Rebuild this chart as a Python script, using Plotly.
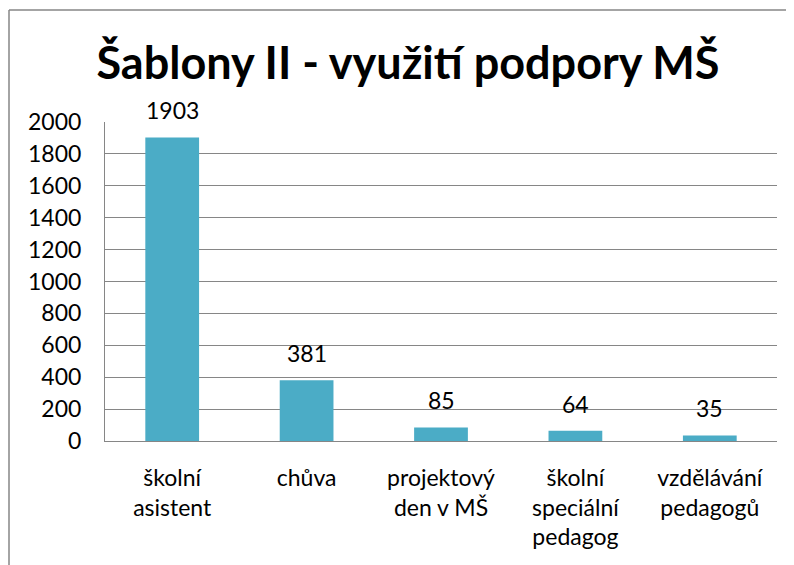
import plotly.graph_objects as go

categories = ["školní<br>asistent", "chůva", "projektový<br>den v MŠ", "školní<br>speciální<br>pedagog", "vzdělávání<br>pedagogů"]
values = [1903, 381, 85, 64, 35]
y_ticks = [0, 200, 400, 600, 800, 1000, 1200, 1400, 1600, 1800, 2000]

FONT = "Lato, Open Sans, sans-serif"
GRID = "#868686"
OFF = 8  # page body margin

fig = go.Figure(go.Bar(
    x=categories, y=values,
    marker=dict(color="#4BACC6", line=dict(width=0)),
    width=0.4,
))

for c, v in zip(categories, values):
    fig.add_annotation(x=c, y=v, text=str(v), showarrow=False,
                       yanchor="middle", yshift=27,
                       font=dict(size=23, color="black", family=FONT))

W, H = 794, 565
L, R, T, B = 105 - OFF, 17 + OFF, 122 - OFF, 124 + OFF
pw, ph = W - L - R, H - T - B

def px(x):
    return (x - OFF - L) / pw

def py(y):
    return 1 - (y - OFF - T) / ph

fig.update_layout(
    width=W, height=H,
    margin=dict(l=L, r=R, t=T, b=B),
    paper_bgcolor="white", plot_bgcolor="white",
    showlegend=False,
    font=dict(family=FONT, color="black"),
    title=dict(text="<b>Šablony II - využití podpory MŠ</b>",
               x=(408 - OFF) / W, xanchor="center", y=1 - (63 - OFF) / H, yanchor="middle",
               font=dict(size=45, family=FONT, color="black")),
    yaxis=dict(range=[0, 2000], tickvals=y_ticks, showgrid=True, gridcolor=GRID, gridwidth=1,
               showline=True, linecolor=GRID, linewidth=1, zeroline=False,
               tickfont=dict(size=23, color="black"), ticks="", ticklabelstandoff=18),
    xaxis=dict(showline=True, linecolor=GRID, linewidth=1, ticks="",
               tickfont=dict(size=23, color="black"), ticklabelstandoff=16),
    shapes=[
        dict(type="line", xref="paper", yref="paper",
             x0=px(9), x1=px(9), y0=py(10), y1=py(580),
             line=dict(color=GRID, width=1.5)),
        dict(type="line", xref="paper", yref="paper",
             x0=px(9), x1=px(810), y0=py(10), y1=py(10),
             line=dict(color=GRID, width=1.5)),
    ],
)

fig.write_html("out.html")
